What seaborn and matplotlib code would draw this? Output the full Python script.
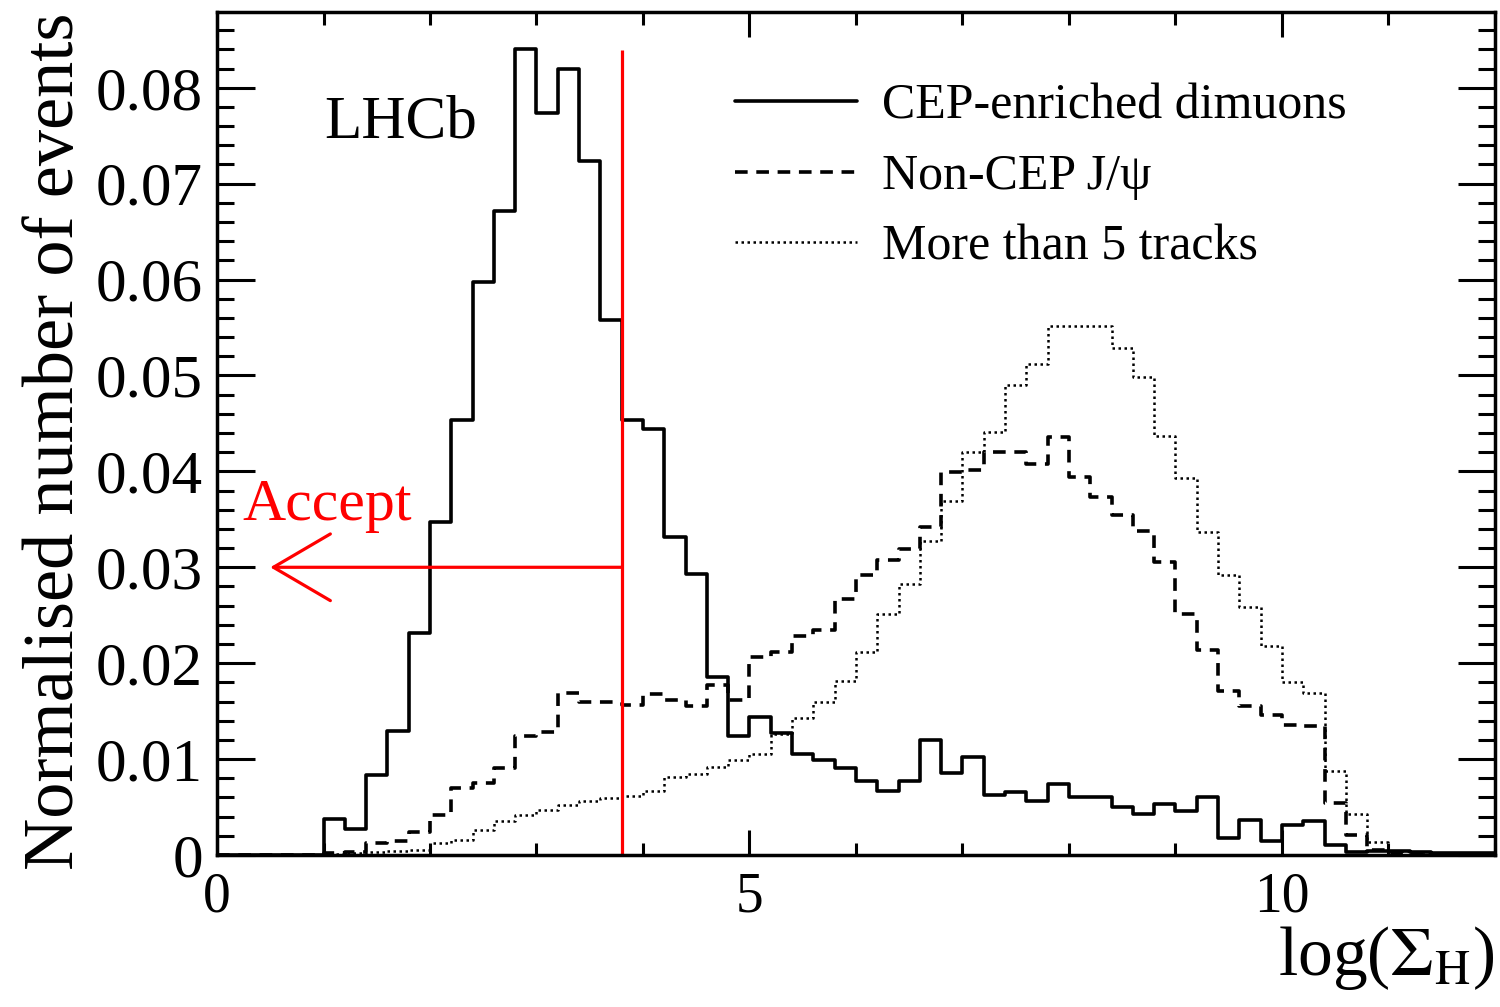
import numpy as np
import pandas as pd
import matplotlib
matplotlib.use('Agg')
import matplotlib.pyplot as plt
from matplotlib.ticker import MultipleLocator, FuncFormatter
import seaborn as sns

# 60 bins of width 0.2 in log(Sigma_H), from 0 to 12
bin_edges = np.linspace(0, 12, 61)
bin_centres = bin_edges[:-1] + 0.1

cep_dimuons = [0, 0, 0, 0, 0,
               0.0038, 0.0027, 0.0083, 0.0129, 0.0231, 0.0347, 0.0454, 0.0597, 0.0671, 0.0840,
               0.0774, 0.0820, 0.0724, 0.0558, 0.0454, 0.0444, 0.0332, 0.0293, 0.0186, 0.0124,
               0.0144, 0.0127, 0.0105, 0.0099, 0.0091, 0.0077, 0.0067, 0.0077, 0.0120, 0.0085,
               0.0102, 0.0063, 0.0066, 0.0056, 0.0074, 0.0060, 0.0060, 0.0050, 0.0043, 0.0053,
               0.0046, 0.0060, 0.0018, 0.0036, 0.0015, 0.0031, 0.0035, 0.0010, 0.0003, 0.0004,
               0.0004, 0.0003, 0.0002, 0.0002, 0.0002]

non_cep_jpsi = [0, 0, 0, 0, 0,
                0.0002, 0.0003, 0.0012, 0.0015, 0.0024, 0.0042, 0.0070, 0.0075, 0.0091, 0.0124,
                0.0128, 0.0169, 0.0160, 0.0160, 0.0156, 0.0168, 0.0162, 0.0155, 0.0177, 0.0162,
                0.0206, 0.0212, 0.0228, 0.0235, 0.0267, 0.0292, 0.0308, 0.0319, 0.0342, 0.0399,
                0.0401, 0.0420, 0.0420, 0.0408, 0.0436, 0.0394, 0.0373, 0.0355, 0.0338, 0.0305,
                0.0251, 0.0214, 0.0171, 0.0155, 0.0146, 0.0136, 0.0135, 0.0054, 0.0021, 0.0005,
                0.0002, 0.0001, 0.0001, 0.0001, 0.0001]

many_tracks = [0, 0, 0, 0, 0,
               0.0001, 0.0002, 0.0003, 0.0004, 0.0005, 0.0012, 0.0016, 0.0026, 0.0035, 0.0042,
               0.0047, 0.0052, 0.0056, 0.0059, 0.0062, 0.0067, 0.0081, 0.0084, 0.0092, 0.0099,
               0.0105, 0.0126, 0.0143, 0.0160, 0.0181, 0.0212, 0.0251, 0.0283, 0.0327, 0.0369,
               0.0420, 0.0441, 0.0490, 0.0512, 0.0552, 0.0552, 0.0552, 0.0529, 0.0498, 0.0437,
               0.0393, 0.0337, 0.0292, 0.0259, 0.0218, 0.0180, 0.0169, 0.0088, 0.0043, 0.0014,
               0.0004, 0.0001, 0.0001, 0.0001, 0.0001]

labels = ['CEP-enriched dimuons', 'Non-CEP J/\u03c8', 'More than 5 tracks']

cut = 3.8          # selection cut on log(Sigma_H)
cut_top = 0.0839
arrow_y = 0.03
arrow_tip = 0.5

df = pd.DataFrame({'x': bin_centres, 'cep': cep_dimuons,
                   'noncep': non_cep_jpsi, 'tracks': many_tracks})

sns.set_style('ticks')
plt.rcParams['font.family'] = ['Liberation Serif', 'DejaVu Serif']
plt.rcParams['mathtext.fontset'] = 'stix'
plt.rcParams['text.color'] = 'black'
plt.rcParams['axes.labelcolor'] = 'black'

fig = plt.figure(figsize=(15, 10.07), dpi=100)
ax = fig.add_axes([217/1500, 1 - 855/1007, (1495-217)/1500, (855-12)/1007])

hist_kw = dict(data=df, x='x', binwidth=0.2, binrange=(0, 12), element='step',
               fill=False, color='black', ax=ax)
sns.histplot(weights='cep', linewidth=2.6, label=labels[0], **hist_kw)
sns.histplot(weights='noncep', linewidth=2.6, linestyle=(0, (3.5, 2.4)), label=labels[1], **hist_kw)
sns.histplot(weights='tracks', linewidth=1.8, linestyle=(0, (1, 1.4)), label=labels[2], **hist_kw)

# cut line and accept arrow
ax.vlines(cut, 0, cut_top, color='red', linewidth=2.3)
ax.annotate('', xy=(arrow_tip, arrow_y), xytext=(cut, arrow_y),
            arrowprops=dict(arrowstyle='->,head_length=4.1,head_width=2.4', color='red',
                            linewidth=2.3, shrinkA=0, shrinkB=0, mutation_scale=10))
ax.text(0.24, 0.0349, 'Accept', color='red', fontsize=43)
ax.text(1.01, 0.0748, 'LHCb', fontsize=44, color='black')

ax.set_xlim(0, 12)
ax.set_ylim(0, 0.0879)
ax.xaxis.set_major_locator(MultipleLocator(5))
ax.xaxis.set_minor_locator(MultipleLocator(1))
ax.yaxis.set_major_locator(MultipleLocator(0.01))
ax.yaxis.set_minor_locator(MultipleLocator(0.002))
ax.yaxis.set_major_formatter(FuncFormatter(lambda v, p: '0' if abs(v) < 1e-9 else f'{v:.2f}'))

ax.tick_params(which='both', direction='in', top=True, right=True, width=2.2,
               colors='black', labelcolor='black')
ax.tick_params(axis='y', which='major', length=27, labelsize=44, pad=10)
ax.tick_params(axis='y', which='minor', length=12.5)
ax.tick_params(axis='x', which='major', length=18, labelsize=40, pad=12)
ax.tick_params(axis='x', which='minor', length=9)
for s in ax.spines.values():
    s.set_linewidth(2.5)
    s.set_color('black')

ax.set_xlabel(r'log($\Sigma_{\rm H}$)', fontsize=50, loc='right', labelpad=0)
ax.set_ylabel('Normalised number of events', fontsize=52, loc='top', labelpad=6)

ax.legend(loc='upper left', bbox_to_anchor=((735-217)/1278, (855-83)/843), frameon=False,
          fontsize=36, handlelength=2.44, handletextpad=0.5, labelspacing=0.48,
          borderpad=0, borderaxespad=0)

plt.savefig('out.png', dpi=100)
plt.close()
